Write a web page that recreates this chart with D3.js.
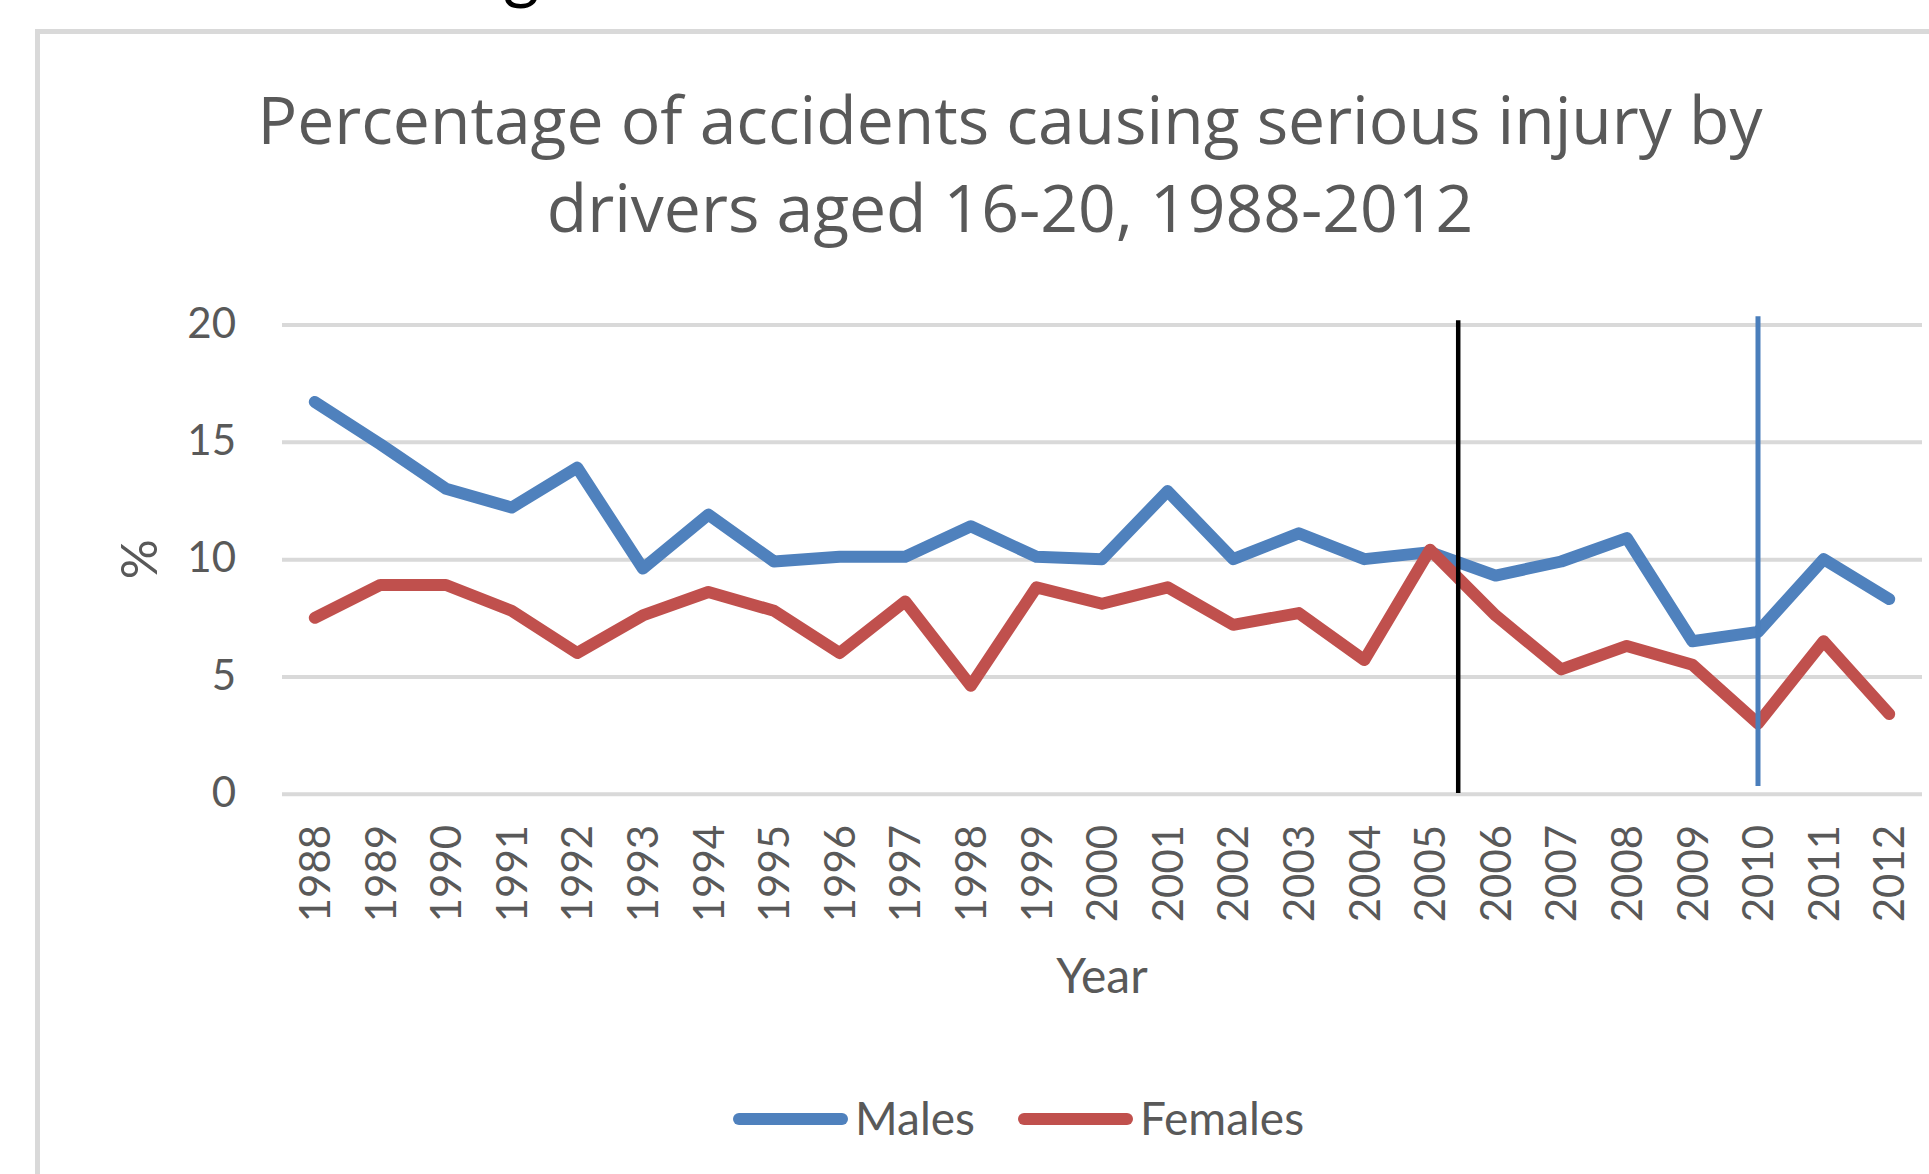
<!DOCTYPE html>
<html>
<head>
<meta charset="utf-8">
<script src="https://cdn.jsdelivr.net/npm/d3@7"></script>
<style>
  html, body { margin: 0; padding: 0; background: #ffffff; }
  svg { display: block; font-family: Lato, "Open Sans", sans-serif; }
</style>
</head>
<body>
<svg id="chart" width="1929" height="1174"></svg>
<script>
// ---- data ----
const years = [1988,1989,1990,1991,1992,1993,1994,1995,1996,1997,1998,1999,2000,
               2001,2002,2003,2004,2005,2006,2007,2008,2009,2010,2011,2012];
const males = [16.7,14.9,13.0,12.2,13.9,9.6,11.9,9.9,10.1,10.1,11.4,10.1,10.0,
               12.9,10.0,11.1,10.0,10.3,9.3,9.9,10.9,6.5,6.9,10.0,8.3];
const females = [7.5,8.9,8.9,7.8,6.0,7.6,8.6,7.8,6.0,8.2,4.6,8.8,8.1,
                 8.8,7.2,7.7,5.7,10.4,7.6,5.3,6.3,5.5,3.0,6.5,3.4];
const seriesNames = ["Males", "Females"];
const yTicks = [0, 5, 10, 15, 20];
const titleLines = ["Percentage of accidents causing serious injury by",
                    "drivers aged 16-20, 1988-2012"];
const xAxisTitle = "Year";
const yAxisTitle = "%";
// vertical marker lines (year position, top value, bottom value)
const markerYears = [2005.43, 2010];
const markerTops = [20.18, 20.35];
const markerBottoms = [0.03, 0.33];

// ---- styles / layout ----
const seriesColors = ["#4f81bd", "#c0504d"];
const markerColors = ["#000000", "#4a7ebb"];
const markerWidths = [4.5, 5];
const textColor = "#595959";
const gridColor = "#d9d9d9";
const plot = { left: 282, right: 1922, top: 324.5, bottom: 793.8 };
const lato = "Lato, sans-serif";
const openSans = "'Open Sans', sans-serif";

const svg = d3.select("#chart");

// fragment of document heading above the chart
svg.append("text").attr("x", 503).attr("y", -4)
  .style("font-family", lato)
  .attr("font-size", 70).attr("fill", "#000").text("g");

// chart frame
svg.append("rect")
  .attr("x", 37.5).attr("y", 31.5)
  .attr("width", 2000).attr("height", 1300)
  .attr("fill", "#ffffff")
  .attr("stroke", gridColor).attr("stroke-width", 5);

// scales
const x = d3.scaleBand().domain(years).range([plot.left, plot.right]).padding(0);
const bw = x.bandwidth();
const cx = d => x(d) + bw / 2;
const xLin = d3.scaleLinear().domain([years[0], years[years.length - 1]])
  .range([cx(years[0]), cx(years[years.length - 1])]);
const y = d3.scaleLinear().domain([0, 20]).range([plot.bottom, plot.top]);

// title
svg.append("g").selectAll("text").data(titleLines).join("text")
  .attr("x", 1010)
  .attr("y", (d, i) => 144 + i * 88)
  .attr("text-anchor", "middle")
  .style("font-family", openSans)
  .attr("font-size", 66)
  .attr("fill", textColor)
  .text(d => d);

// gridlines
const grid = svg.append("g").attr("transform", `translate(${plot.left},0)`)
  .call(d3.axisLeft(y).tickValues(yTicks).tickSize(-(plot.right - plot.left)).tickFormat(""));
grid.select(".domain").remove();
grid.selectAll(".tick line").attr("stroke", gridColor).attr("stroke-width", 4);

// y axis labels
const yAxis = svg.append("g").attr("transform", `translate(${plot.left},0)`)
  .call(d3.axisLeft(y).tickValues(yTicks).tickSize(0).tickPadding(46).tickFormat(d3.format("d")));
yAxis.select(".domain").remove();
yAxis.selectAll(".tick text")
  .style("font-family", lato)
  .attr("font-size", 42).attr("fill", textColor).attr("dy", "0.3em");

// x axis labels
const xAxis = svg.append("g").attr("transform", `translate(0,${plot.bottom})`)
  .call(d3.axisBottom(x).tickSize(0).tickFormat(d => String(d)));
xAxis.select(".domain").remove();
xAxis.selectAll(".tick text")
  .style("font-family", lato)
  .attr("font-size", 42).attr("fill", textColor)
  .attr("transform", "rotate(-90)")
  .attr("text-anchor", "end")
  .attr("x", -31).attr("y", 0).attr("dy", "0.36em");

// axis titles
svg.append("text")
  .attr("x", (plot.left + plot.right) / 2).attr("y", 993)
  .attr("text-anchor", "middle")
  .style("font-family", lato)
  .attr("font-size", 48).attr("fill", textColor)
  .text(xAxisTitle);
svg.append("text")
  .attr("transform", `translate(139,${(plot.top + plot.bottom) / 2}) rotate(-90)`)
  .attr("text-anchor", "middle").attr("dy", "0.36em")
  .style("font-family", lato)
  .attr("font-size", 50).attr("fill", textColor)
  .text(yAxisTitle);

// series lines
const seriesData = [males, females];
const line = d3.line().x((d, i) => cx(years[i])).y(d => y(d));
svg.append("g").selectAll("path").data(seriesData).join("path")
  .attr("d", d => line(d))
  .attr("fill", "none")
  .attr("stroke", (d, i) => seriesColors[i])
  .attr("stroke-width", 12)
  .attr("stroke-linejoin", "round")
  .attr("stroke-linecap", "round");

// vertical markers
svg.append("g").selectAll("line").data(markerYears).join("line")
  .attr("x1", d => xLin(d)).attr("x2", d => xLin(d))
  .attr("y1", (d, i) => y(markerTops[i])).attr("y2", (d, i) => y(markerBottoms[i]))
  .attr("stroke", (d, i) => markerColors[i])
  .attr("stroke-width", (d, i) => markerWidths[i]);

// legend
const legendX = [739, 1024];
const legend = svg.append("g").selectAll("g").data(seriesNames).join("g")
  .attr("transform", (d, i) => `translate(${legendX[i]},1119)`);
legend.append("line")
  .attr("x1", 0).attr("x2", 103).attr("y1", 0).attr("y2", 0)
  .attr("stroke", (d, i) => seriesColors[i])
  .attr("stroke-width", 12).attr("stroke-linecap", "round");
legend.append("text")
  .attr("x", 116).attr("y", 16)
  .style("font-family", lato)
  .attr("font-size", 46).attr("fill", textColor)
  .text(d => d);
</script>
</body>
</html>
